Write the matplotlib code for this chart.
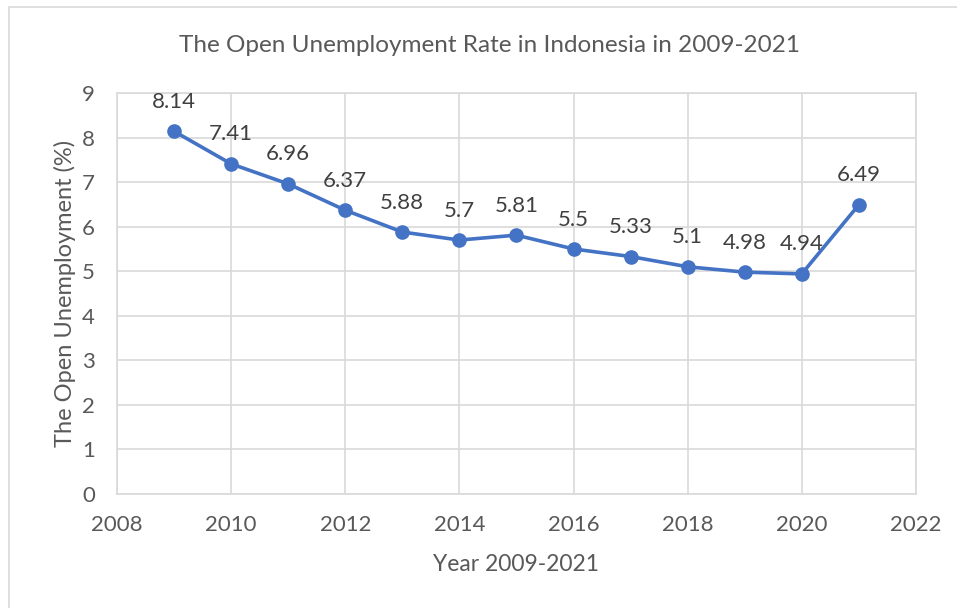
import matplotlib.pyplot as plt
from matplotlib.patches import Rectangle

# Open unemployment rate, Indonesia
years = [2009, 2010, 2011, 2012, 2013, 2014, 2015, 2016, 2017, 2018, 2019, 2020, 2021]
rates = [8.14, 7.41, 6.96, 6.37, 5.88, 5.7, 5.81, 5.5, 5.33, 5.1, 4.98, 4.94, 6.49]
rate_labels = ['8.14', '7.41', '6.96', '6.37', '5.88', '5.7', '5.81', '5.5', '5.33', '5.1', '4.98', '4.94', '6.49']

x_ticks = [2008, 2010, 2012, 2014, 2016, 2018, 2020, 2022]
y_ticks = [0, 1, 2, 3, 4, 5, 6, 7, 8, 9]

plt.rcParams['font.family'] = ['Lato', 'DejaVu Sans']

line_color = '#4472C4'
text_gray = '#595959'
grid_gray = '#D9D9D9'

fig = plt.figure(figsize=(9.57, 6.08), dpi=100)
# light frame around the chart area
fig.patches.append(Rectangle((9 / 957, -0.1), 1.1, 1.1 - 7 / 608,
                             transform=fig.transFigure, fill=False,
                             edgecolor='#D9D9D9', linewidth=1.2))

ax = fig.add_axes([0.1223, 0.1875, 0.8347, 0.6595])
ax.plot(years, rates, color=line_color, linewidth=2.6, marker='o',
        markersize=9.5, zorder=3)

for yr, val, lab in zip(years, rates, rate_labels):
    ax.annotate(lab, (yr, val), xytext=(0, 14), textcoords='offset points',
                ha='center', va='bottom', fontsize=16, color='#404040')

ax.set_xlim(2008, 2022)
ax.set_ylim(0, 9)
ax.set_xticks(x_ticks)
ax.set_yticks(y_ticks)
ax.grid(True, color=grid_gray, linewidth=1.2)
ax.set_axisbelow(True)
for sp in ax.spines.values():
    sp.set_color(grid_gray)
    sp.set_linewidth(1.2)
ax.tick_params(length=0, labelsize=16, colors=text_gray)
ax.tick_params(axis='x', pad=15)
ax.tick_params(axis='y', pad=16)

# title is centred on the whole chart, not on the plot area
fig.text(0.511, 0.925, 'The Open Unemployment Rate in Indonesia in 2009-2021',
         ha='center', va='center', fontsize=17.5, color=text_gray)
ax.set_xlabel('Year 2009-2021', fontsize=16.5, color=text_gray, labelpad=14)
ax.set_ylabel('The Open Unemployment (%)', fontsize=17, color=text_gray, labelpad=4)

fig.savefig('out.png', dpi=100)
